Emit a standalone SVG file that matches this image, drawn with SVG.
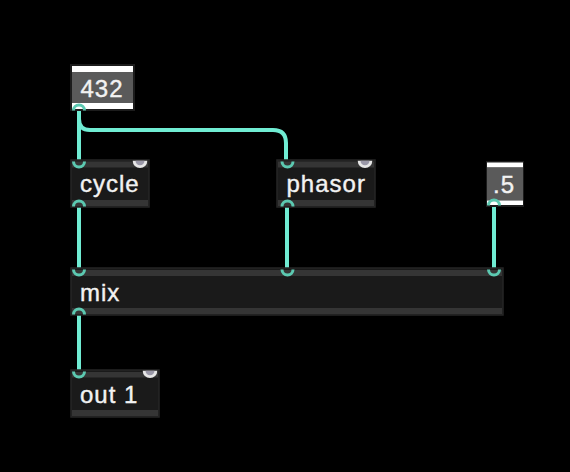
<svg xmlns="http://www.w3.org/2000/svg" width="570" height="472" viewBox="0 0 570 472">
<style>
.bg{fill:#000}
.body{fill:#1a1a1a;stroke:#262626;stroke-width:1.5}
.bar{fill:#353535}
.nbody{fill:#1c1c1c}
.nwhite{fill:#ffffff}
.ngray{fill:#5a5a5a}
.txt{font-family:"Liberation Sans",Arial,sans-serif;font-size:24px;letter-spacing:1px;fill:#f2f2f2;stroke:#f2f2f2;stroke-width:0.4}
.cord{fill:none;stroke:#70ecd3;stroke-width:4;stroke-linecap:round}
.port{fill:none;stroke:#5cc9b1;stroke-width:3}
.hotout{fill:#e6e6e6}
.hotin{fill:#9a98a8}
</style>
<rect class="bg" x="0" y="0" width="570" height="472"/>

<g id="connectors">
  <path class="cord" d="M79,108 L79,119 Q79,130 90,130 L273,130 Q286,130 286,143 L286,166"/>
  <path class="cord" d="M79,108 L79,166"/>
  <path class="cord" d="M79,204 L79,274"/>
  <path class="cord" d="M287,204 L287,274"/>
  <path class="cord" d="M494,203 L494,274"/>
  <path class="cord" d="M79,312 L79,376"/>
</g>

<g id="num432">
  <rect class="nbody" x="70" y="64" width="65" height="47"/>
  <rect class="nwhite" x="72" y="66" width="61" height="6"/>
  <rect class="ngray" x="72" y="72" width="61" height="31"/>
  <rect class="nwhite" x="72" y="103" width="61" height="6"/>
  <text class="txt" x="80.5" y="96.5">432</text>
  <path class="port" d="M73.5,110.5 A5.5,5.5 0 0 1 84.5,110.5"/>
</g>

<g id="cycle">
  <rect class="body" x="71" y="160" width="78" height="47"/>
  <rect class="bar" x="72" y="161.5" width="76" height="6"/>
  <rect class="bar" x="72" y="200" width="76" height="6"/>
  <path class="hotout" d="M132.7,160.8 A7.3,7.3 0 0 0 147.3,160.8 Z"/>
  <path class="hotin" d="M135.5,160.8 A4.5,4.5 0 0 0 144.5,160.8 Z"/>
  <text class="txt" x="80" y="192">cycle</text>
  <path class="port" d="M73.5,161.5 A5.5,5.5 0 0 0 84.5,161.5"/>
  <path class="port" d="M73.5,206.5 A5.5,5.5 0 0 1 84.5,206.5"/>
</g>

<g id="phasor">
  <rect class="body" x="277" y="160" width="98" height="47"/>
  <rect class="bar" x="278" y="161.5" width="96" height="6"/>
  <rect class="bar" x="278" y="200" width="96" height="6"/>
  <path class="hotout" d="M357.7,160.8 A7.3,7.3 0 0 0 372.3,160.8 Z"/>
  <path class="hotin" d="M360.5,160.8 A4.5,4.5 0 0 0 369.5,160.8 Z"/>
  <text class="txt" x="286.5" y="192">phasor</text>
  <path class="port" d="M282,161.5 A5.5,5.5 0 0 0 293,161.5"/>
  <path class="port" d="M282,206.5 A5.5,5.5 0 0 1 293,206.5"/>
</g>

<g id="num05">
  <rect class="nbody" x="486" y="161" width="38" height="46"/>
  <rect class="nwhite" x="487" y="162.5" width="36" height="5"/>
  <rect class="ngray" x="487" y="167.5" width="36" height="33"/>
  <rect class="nwhite" x="487" y="200.5" width="36" height="4.5"/>
  <text class="txt" x="493" y="193">.5</text>
  <path class="port" d="M488.5,205.5 A5.5,5.5 0 0 1 499.5,205.5"/>
</g>

<g id="mix">
  <rect class="body" x="71" y="268" width="432" height="47"/>
  <rect class="bar" x="72" y="270" width="430" height="6"/>
  <rect class="bar" x="72" y="308" width="430" height="6"/>
  <text class="txt" x="80" y="301">mix</text>
  <path class="port" d="M73.5,269.5 A5.5,5.5 0 0 0 84.5,269.5"/>
  <path class="port" d="M282,269.5 A5.5,5.5 0 0 0 293,269.5"/>
  <path class="port" d="M488.5,269.5 A5.5,5.5 0 0 0 499.5,269.5"/>
  <path class="port" d="M73.5,314.5 A5.5,5.5 0 0 1 84.5,314.5"/>
</g>

<g id="out1">
  <rect class="body" x="71" y="370" width="88" height="47"/>
  <rect class="bar" x="72" y="372" width="86" height="5.5"/>
  <rect class="bar" x="72" y="410" width="86" height="6"/>
  <path class="hotout" d="M142.7,370.8 A7.3,7.3 0 0 0 157.3,370.8 Z"/>
  <path class="hotin" d="M145.5,370.8 A4.5,4.5 0 0 0 154.5,370.8 Z"/>
  <text class="txt" x="80" y="403">out 1</text>
  <path class="port" d="M73.5,371.5 A5.5,5.5 0 0 0 84.5,371.5"/>
</g>
</svg>
